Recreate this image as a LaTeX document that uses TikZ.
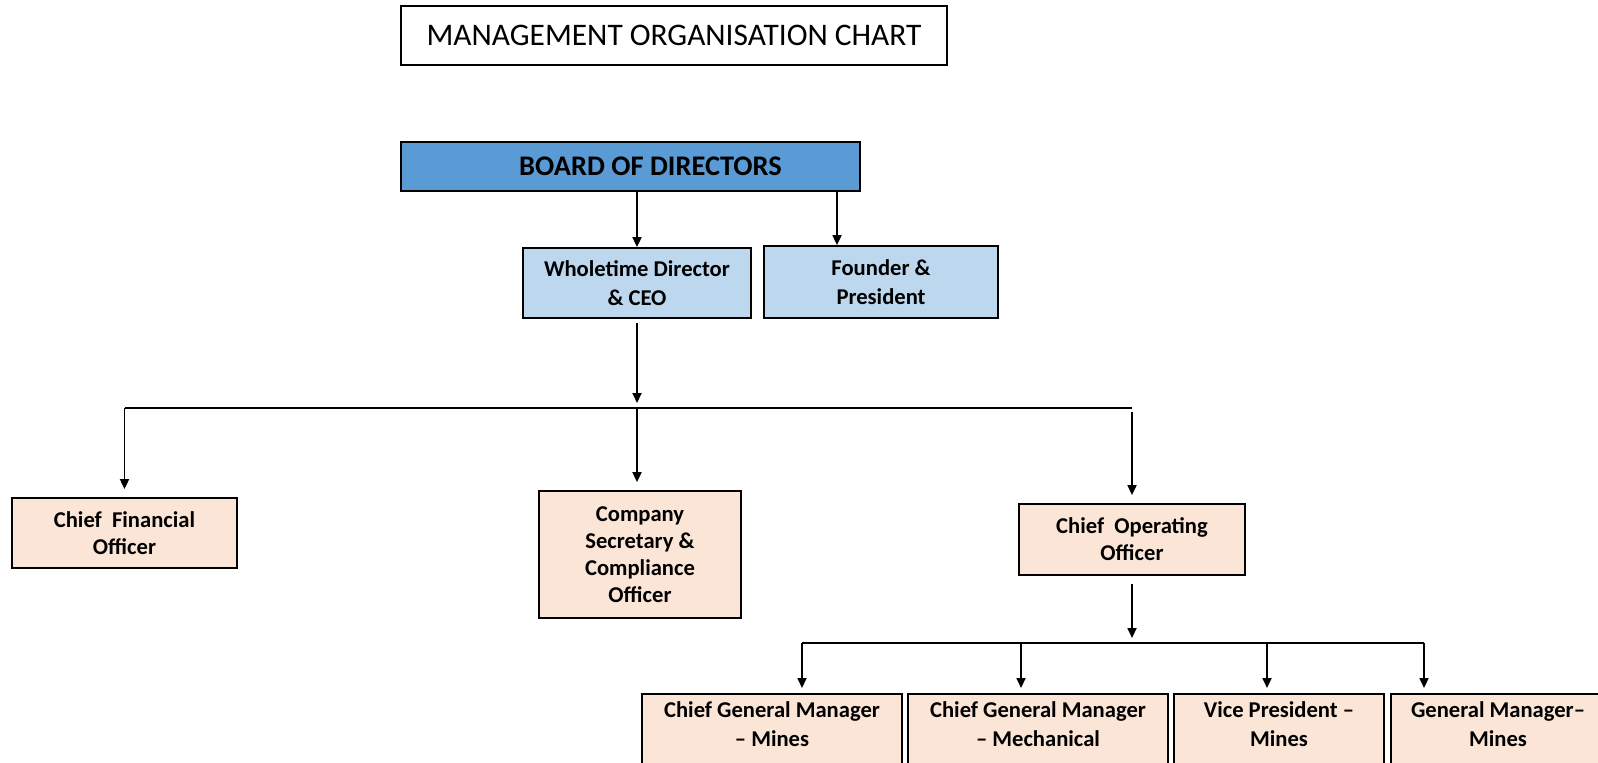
\documentclass[tikz,border=0pt]{standalone}
\usepackage{fontspec}
\setmainfont{Carlito}
\usetikzlibrary{arrows.meta, calc, positioning}
\definecolor{boardblue}{RGB}{91,155,213}
\definecolor{dirblue}{RGB}{189,215,238}
\definecolor{offpeach}{RGB}{251,229,214}
\tikzset{
  titlebox/.style ={draw, line width=0.9pt, inner sep=0pt, font=\fontsize{15.7}{19}\selectfont},
  boardbox/.style ={draw, line width=0.9pt, inner sep=0pt, fill=boardblue, font=\bfseries\fontsize{14.2}{17}\selectfont},
  dirbox/.style   ={draw, line width=0.9pt, inner sep=0pt, fill=dirblue, align=center, font=\bfseries\fontsize{11.3}{14.2}\selectfont},
  offbox/.style   ={draw, line width=0.9pt, inner sep=0pt, fill=offpeach, align=center, font=\bfseries\fontsize{11.3}{13.6}\selectfont},
  mgrbox/.style   ={draw, line width=0.9pt, inner xsep=0pt, inner ysep=4pt, fill=offpeach, align=center, anchor=north, text depth=12pt, font=\bfseries\fontsize{11.3}{14.6}\selectfont},
  arr/.style      ={-{Triangle[length=5pt, width=4.5pt]}, line width=0.9pt, shorten >=2.5pt},
  bus/.style      ={line width=0.9pt},
}
\begin{document}
\begin{tikzpicture}[x=0.5pt, y=-0.5pt]
  \useasboundingbox (0,0) rectangle (1598,762);
  % title
  \node[titlebox, minimum width=273pt, minimum height=29.5pt] (title) at (674,35.5) {MANAGEMENT ORGANISATION CHART};
  % board and directors
  \node[boardbox, minimum width=229.5pt, minimum height=24.5pt] (board) at (630.5,166.5) {\hspace*{20pt}BOARD OF DIRECTORS};
  \node[dirbox, minimum width=114pt, minimum height=35pt] (wtd) at (637,283) {Wholetime Director\\\& CEO};
  \node[dirbox, minimum width=117pt, minimum height=36pt] (fp) at (881,282) {Founder \&\\President};
  \draw[arr, shorten >=0pt] (board.south -| wtd.north) -- (wtd.north);
  \draw[arr, shorten >=0pt] ([xshift=-22pt]board.south -| fp.north) -- ([xshift=-22pt]fp.north);
  % officers
  \node[offbox, minimum width=112.5pt, minimum height=35pt] (cfo) at (124.5,533) {Chief~~Financial\\Officer};
  \node[offbox, minimum width=101pt, minimum height=63.5pt] (cs) at (640,554.5) {Company\\Secretary \&\\Compliance\\Officer};
  \node[offbox, minimum width=113pt, minimum height=35.5pt] (coo) at (1132,539.5) {Chief~~Operating\\Officer};
  \coordinate (bus) at (637,408);
  \draw[arr, shorten <=2pt] (wtd.south) -- (bus);
  \draw[bus] (cfo.north |- bus) -- (coo.north |- bus);
  \draw[arr, shorten >=4pt] (cfo.north |- bus) -- (cfo.north);
  \draw[arr, shorten >=4pt] (bus) -- (bus |- cs.north);
  \draw[arr, shorten >=4pt, shorten <=2pt] (coo.north |- bus) -- (coo.north);
  % managers
  \node[mgrbox, minimum width=130pt] (cgm) at (772,693) {Chief General Manager\\-- Mines};
  \node[mgrbox, minimum width=130pt] (cgmm) at (1038,693) {Chief General Manager\\-- Mechanical};
  \node[mgrbox, minimum width=105pt] (vp) at (1279,693) {Vice President --\\Mines};
  \node[mgrbox, minimum width=107pt] (gm) at (1498,693) {General Manager--\\Mines};
  \coordinate (sub) at (1132,643);
  \coordinate (m1) at (802,643);
  \coordinate (m2) at (1021,643);
  \coordinate (m3) at (1267,643);
  \coordinate (m4) at (1424,643);
  \draw[arr, shorten <=4pt] (coo.south) -- (sub);
  \draw[bus] (m1) -- (m4);
  \draw[arr] (m1) -- (m1 |- cgm.north);
  \draw[arr] (m2) -- (m2 |- cgmm.north);
  \draw[arr] (m3) -- (m3 |- vp.north);
  \draw[arr] (m4) -- (m4 |- gm.north);
\end{tikzpicture}
\end{document}
